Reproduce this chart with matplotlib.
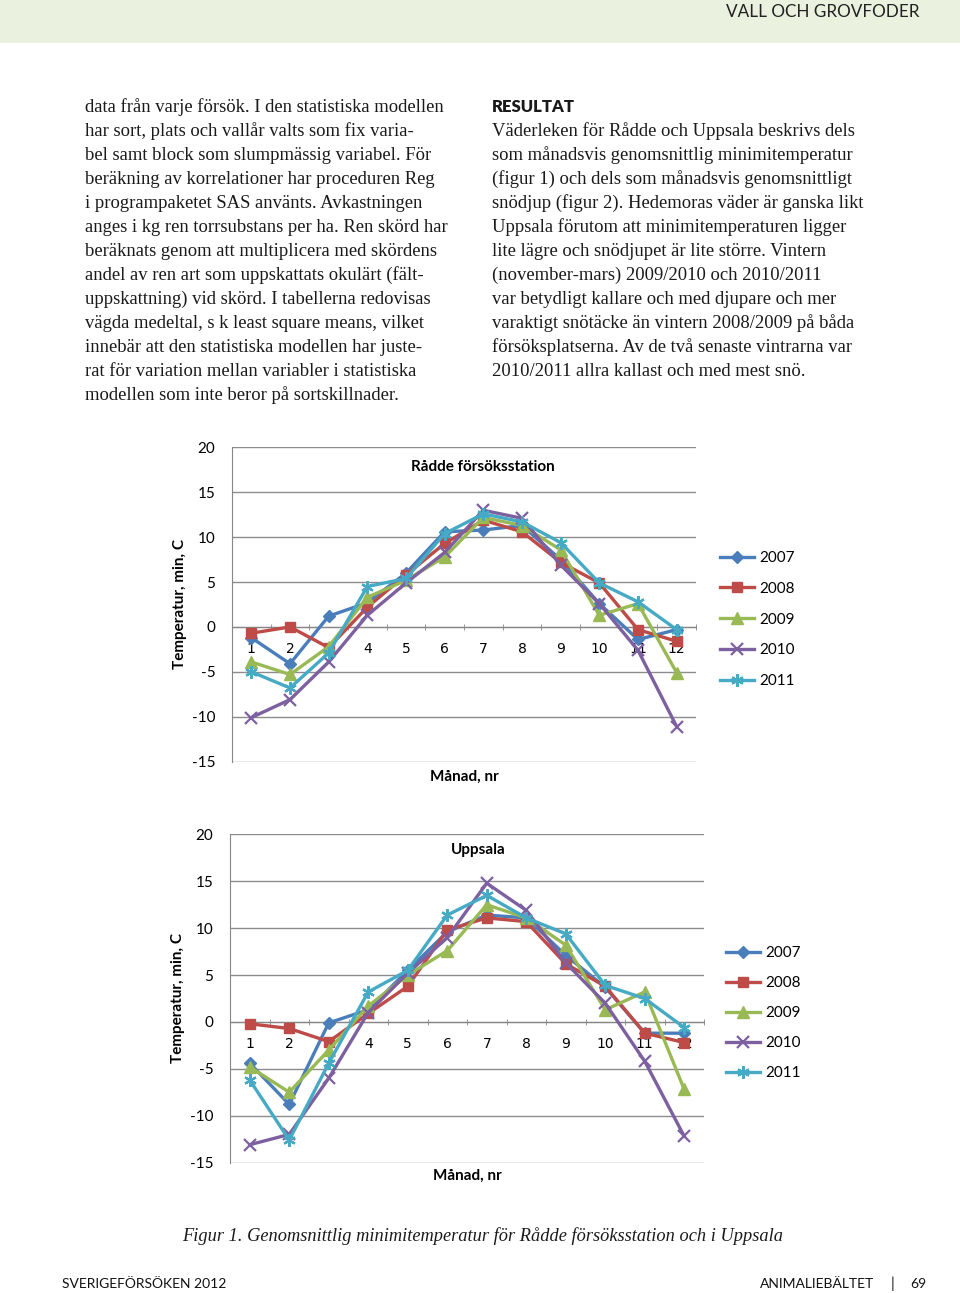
import matplotlib
matplotlib.use("Agg")
import matplotlib.pyplot as plt
from matplotlib.ticker import FixedLocator

# ---------------- data ----------------
months = [1, 2, 3, 4, 5, 6, 7, 8, 9, 10, 11, 12]
years = ["2007", "2008", "2009", "2010", "2011"]

radde_2007 = [-1.2, -4.1, 1.2, 2.7, 6.0, 10.6, 10.8, 11.3, 7.5, 2.6, -1.4, -0.3]
radde_2008 = [-0.7, 0.0, -2.3, 2.2, 5.8, 9.3, 11.9, 10.6, 7.2, 4.9, -0.3, -1.6]
radde_2009 = [-3.9, -5.3, -2.2, 3.3, 5.2, 7.8, 12.2, 11.3, 8.6, 1.3, 2.6, -5.1]
radde_2010 = [-10.1, -8.1, -3.9, 1.3, 4.9, 8.3, 13.0, 12.1, 6.9, 2.6, -2.6, -11.1]
radde_2011 = [-5.0, -6.8, -2.9, 4.5, 5.4, 10.4, 12.6, 11.7, 9.4, 4.9, 2.8, -0.3]

upp_2007 = [-4.4, -8.8, -0.1, 1.3, 5.5, 9.6, 11.4, 11.1, 7.1, 3.7, -1.2, -1.2]
upp_2008 = [-0.2, -0.7, -2.1, 0.9, 3.8, 9.8, 11.1, 10.7, 6.2, 3.8, -1.2, -2.2]
upp_2009 = [-4.8, -7.5, -3.0, 1.7, 5.0, 7.6, 12.5, 11.1, 8.2, 1.3, 3.2, -7.2]
upp_2010 = [-13.1, -12.0, -6.0, 1.0, 5.2, 9.0, 14.8, 11.9, 6.3, 2.0, -4.2, -12.2]
upp_2011 = [-6.2, -12.6, -4.4, 3.2, 5.5, 11.4, 13.5, 11.1, 9.4, 3.9, 2.5, -0.6]

yticks = [20, 15, 10, 5, 0, -5, -10, -15]

left_text = [
    "data från varje försök. I den statistiska modellen",
    "har sort, plats och vallår valts som fix varia-",
    "bel samt block som slumpmässig variabel. För",
    "beräkning av korrelationer har proceduren Reg",
    "i programpaketet SAS använts. Avkastningen",
    "anges i kg ren torrsubstans per ha. Ren skörd har",
    "beräknats genom att multiplicera med skördens",
    "andel av ren art som uppskattats okulärt (fält-",
    "uppskattning) vid skörd. I tabellerna redovisas",
    "vägda medeltal, s k least square means, vilket",
    "innebär att den statistiska modellen har juste-",
    "rat för variation mellan variabler i statistiska",
    "modellen som inte beror på sortskillnader.",
]
right_text = [
    "Väderleken för Rådde och Uppsala beskrivs dels",
    "som månadsvis genomsnittlig minimitemperatur",
    "(figur 1) och dels som månadsvis genomsnittligt",
    "snödjup (figur 2). Hedemoras väder är ganska likt",
    "Uppsala förutom att minimitemperaturen ligger",
    "lite lägre och snödjupet är lite större. Vintern",
    "(november-mars) 2009/2010 och 2010/2011",
    "var betydligt kallare och med djupare och mer",
    "varaktigt snötäcke än vintern 2008/2009 på båda",
    "försöksplatserna. Av de två senaste vintrarna var",
    "2010/2011 allra kallast och med mest snö.",
]

# ---------------- styles ----------------
colors = ["#4A7EBB", "#BE4B48", "#98B954", "#7D60A0", "#46AAC5"]
markers = ["D", "s", "^", "x", (6, 2, 0)]
msizes = [6.5, 7.5, 8, 8, 9]

W, H = 960, 1293
fig = plt.figure(figsize=(W / 100, H / 100), dpi=100)
SANS = ["Lato", "DejaVu Sans"]
SERIF = ["Liberation Serif", "DejaVu Serif"]


def fx(x):
    return x / W


def fy(y):
    return 1 - y / H


# header band
fig.patches.append(plt.Rectangle((0, fy(43)), 1, 43 / H, transform=fig.transFigure,
                                 facecolor="#EBF1DF", edgecolor="none", zorder=0))
fig.text(fx(919), fy(12), "VALL OCH GROVFODER", ha="right", va="center",
         fontsize=12.3, family=SANS, color="#222222")

# body text
for i, line in enumerate(left_text):
    fig.text(fx(85), fy(107 + 24 * i), line, ha="left", va="center",
             fontsize=13.4, family=SERIF, color="#1a1a1a")
fig.text(fx(492), fy(107), "RESULTAT", ha="left", va="center",
         fontsize=12, family=SANS, weight="heavy", color="#1a1a1a")
for i, line in enumerate(right_text):
    fig.text(fx(492), fy(131 + 24 * i), line, ha="left", va="center",
             fontsize=13.4, family=SERIF, color="#1a1a1a")

# caption and footer
fig.text(fx(182), fy(1236), "Figur 1. Genomsnittlig minimitemperatur för Rådde försöksstation och i Uppsala",
         ha="left", va="center", fontsize=13.2, family=SERIF, style="italic", color="#1a1a1a")
fig.text(fx(62), fy(1284), "SVERIGEFÖRSÖKEN 2012", ha="left", va="center",
         fontsize=10, family=SANS, color="#111111")
fig.text(fx(874), fy(1284), "ANIMALIEBÄLTET", ha="right", va="center",
         fontsize=10, family=SANS, color="#111111")
fig.text(fx(892), fy(1284), "|", ha="center", va="center",
         fontsize=11, family=SANS, color="#111111")
fig.text(fx(926), fy(1284), "69", ha="right", va="center",
         fontsize=10, family=SANS, color="#111111")


def make_chart(left, right, top, bottom, series, title, title_xy, xlabel_xy,
               ylabel_xy, legend_xy, lspace):
    ax = fig.add_axes([fx(left), fy(bottom), (right - left) / W, (bottom - top) / H])
    for vals, lab, c, m, ms in zip(series, years, colors, markers, msizes):
        ax.plot(months, vals, color=c, lw=2.4, marker=m, markersize=ms,
                markeredgewidth=1.6 if (m == "x" or isinstance(m, tuple)) else 1.0,
                markeredgecolor=c, markerfacecolor=c, label=lab, zorder=3)
    ax.set_xlim(0.5, 12.5)
    ax.set_ylim(-15.05, 20.05)
    ax.yaxis.set_major_locator(FixedLocator(yticks))
    ax.set_yticklabels([str(v) for v in yticks], family=SANS, fontsize=11)
    ax.xaxis.set_major_locator(FixedLocator(months))
    ax.set_xticklabels([str(m) for m in months], family=SANS, fontsize=11)
    ax.xaxis.set_minor_locator(FixedLocator([k + 0.5 for k in range(0, 13)]))
    ax.tick_params(axis="x", which="major", length=0, pad=11)
    ax.tick_params(axis="x", which="minor", length=5, direction="inout", color="#868686")
    ax.tick_params(axis="y", which="major", length=0, pad=12)
    ax.grid(axis="y", color="#8C8C8C", lw=1.0)
    ax.set_axisbelow(True)
    for s in ("top", "right"):
        ax.spines[s].set_visible(False)
    ax.spines["bottom"].set_position(("data", 0))
    ax.spines["bottom"].set_color("#868686")
    ax.spines["left"].set_color("#868686")
    ax.patch.set_alpha(0)
    fig.text(fx(title_xy[0]), fy(title_xy[1]), title, ha="center", va="center",
             fontsize=11, weight="bold", family=SANS)
    fig.text(fx(xlabel_xy[0]), fy(xlabel_xy[1]), "Månad, nr", ha="center", va="center",
             fontsize=11, weight="bold", family=SANS)
    fig.text(fx(ylabel_xy[0]), fy(ylabel_xy[1]), "Temperatur, min, C", ha="center",
             va="center", rotation=90, fontsize=11, weight="bold", family=SANS)
    ax.legend(loc="upper left", bbox_to_anchor=(fx(legend_xy[0]), fy(legend_xy[1])),
              bbox_transform=fig.transFigure, frameon=False, prop={"family": SANS, "size": 11},
              handlelength=2.2, handletextpad=0.4, labelspacing=lspace, borderpad=0,
              borderaxespad=0)
    return ax


make_chart(232, 696, 447, 762,
           [radde_2007, radde_2008, radde_2009, radde_2010, radde_2011],
           "Rådde försöksstation", (483, 467), (464, 777), (180, 604), (720, 551), 1.1)
make_chart(230, 704, 834, 1163,
           [upp_2007, upp_2008, upp_2009, upp_2010, upp_2011],
           "Uppsala", (478, 850), (467, 1176), (178, 998), (726, 946), 1.05)

fig.savefig("out.png", dpi=100, facecolor="white")
